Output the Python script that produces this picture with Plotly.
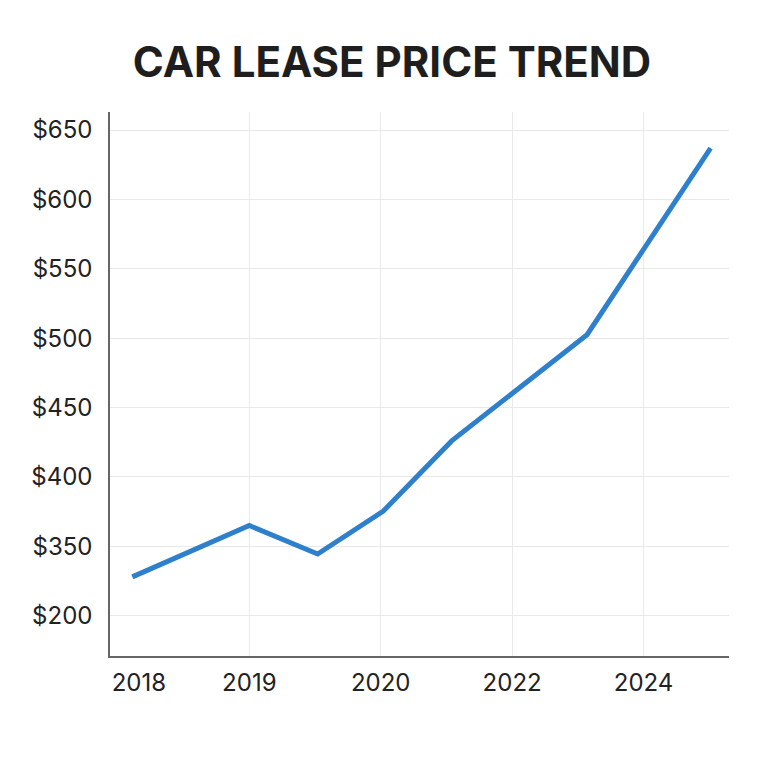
import plotly.graph_objects as go

# slot positions along the x axis (2019 = 1, 2020 = 2, 2022 = 3, 2024 = 4)
x_pos = [0.11, 1.0, 1.52, 2.02, 2.54, 3.57, 4.51]
# lease price, in axis units (the "$200" tick sits where 300 would be)
price = [328, 365, 344.5, 375.5, 426, 502.5, 637]

x_tick_pos = [0.16, 1, 2, 3, 4]
x_tick_text = ["2018", "2019", "2020", "2022", "2024"]
x_grid_pos = [1, 2, 3, 4]

y_tick_pos = [300, 350, 400, 450, 500, 550, 600, 650]
y_tick_text = ["$200", "$350", "$400", "$450", "$500", "$550", "$600", "$650"]

fig = go.Figure()

fig.add_trace(go.Scatter(
    x=x_pos,
    y=price,
    mode="lines",
    line=dict(color="#2f80cc", width=5),
    showlegend=False,
))

# page body adds 8px, so margins are shifted to keep the plot where it should be
fig.update_layout(
    width=768,
    height=768,
    paper_bgcolor="white",
    plot_bgcolor="white",
    font=dict(family="Inter, Roboto, sans-serif", size=24, color="#222222"),
    title=dict(
        text="<b>CAR LEASE PRICE TREND</b>",
        x=0.5,
        xanchor="center",
        y=0.9297,
        yanchor="middle",
        font=dict(family="Inter, Roboto, sans-serif", size=42, color="#1e1e1e"),
    ),
    margin=dict(l=102, r=47, t=104, b=120),
)

fig.update_xaxes(
    range=[-0.06, 4.65],
    tickmode="array",
    tickvals=x_tick_pos,
    ticktext=x_tick_text,
    showgrid=False,
    showline=True,
    linecolor="#666666",
    linewidth=1.5,
    ticks="",
    ticklabelstandoff=4,
    zeroline=False,
    minor=dict(tickmode="array", tickvals=x_grid_pos, showgrid=True,
               gridcolor="#e9e9e9", gridwidth=1, ticks=""),
)

fig.update_yaxes(
    range=[271, 663],
    tickmode="array",
    tickvals=y_tick_pos,
    ticktext=y_tick_text,
    showgrid=True,
    gridcolor="#e9e9e9",
    gridwidth=1,
    showline=True,
    linecolor="#666666",
    linewidth=1.5,
    ticks="",
    ticklabelstandoff=11,
    zeroline=False,
)

fig.write_html("out.html")
